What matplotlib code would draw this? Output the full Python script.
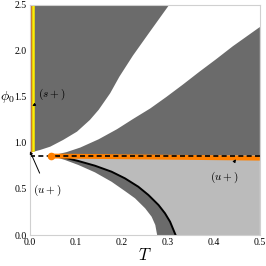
import numpy as np
import matplotlib
matplotlib.use('Agg')
import matplotlib.pyplot as plt

plt.rcParams['mathtext.fontset'] = 'cm'
plt.rcParams['font.family'] = 'Liberation Serif'

# upper-left boundary (T, phi0)
c1_T = [0.005, 0.023, 0.045, 0.073, 0.103, 0.131, 0.150, 0.175, 0.195, 0.2245, 0.26, 0.303]
c1_phi = [0.90, 0.924, 0.96, 1.033, 1.123, 1.25, 1.36, 1.54, 1.72, 1.95, 2.2, 2.5]

# lower boundary of the white band, from the orange dot
c2_T = [0.047, 0.08, 0.11, 0.15, 0.19, 0.2245, 0.262, 0.297, 0.333, 0.369, 0.405, 0.441, 0.5]
c2_phi = [0.862, 0.90, 0.95, 1.04, 1.15, 1.26, 1.375, 1.50, 1.635, 1.775, 1.91, 2.05, 2.26]

# curves below the dashed line
outer_T = [0.047, 0.077, 0.106, 0.142, 0.178, 0.207, 0.236, 0.258, 0.280, 0.294, 0.305, 0.317]
outer_phi = [0.862, 0.840, 0.804, 0.753, 0.688, 0.616, 0.525, 0.435, 0.326, 0.236, 0.145, 0.0]
inner_T = [0.047, 0.077, 0.106, 0.142, 0.178, 0.207, 0.229, 0.251, 0.265, 0.273, 0.277]
inner_phi = [0.862, 0.815, 0.761, 0.681, 0.579, 0.478, 0.399, 0.290, 0.199, 0.109, 0.0]

phi_c = 0.862
dot_T = 0.047
orange_T = [0.047, 0.5]
orange_phi = [0.858, 0.835]

dark = '#6b6b6b'
light = '#bbbbbb'
orange = '#ff8000'

fig = plt.figure(figsize=(2.66, 2.66), dpi=100)
ax = fig.add_axes([0.111, 0.1165, 0.866, 0.865])

# dark region upper-left
ax.fill(c1_T + [0.0, 0.0], c1_phi + [2.5, 0.90], color=dark, lw=0)
# dark region right of dot, above dashed line
ax.fill(c2_T + [0.5], c2_phi + [phi_c], color=dark, lw=0)
# light grey below, right of black curve
ax.fill(outer_T + [0.5, 0.5], outer_phi + [0.0, phi_c], color=light, lw=0)
# dark band between curves
ax.fill(outer_T + inner_T[::-1], outer_phi + inner_phi[::-1], color=dark, lw=0)
ax.plot(outer_T, outer_phi, color='black', lw=1.4)

ax.plot(orange_T, orange_phi, color=orange, lw=3.5, solid_capstyle='butt')
ax.plot([0, 0.5], [phi_c, phi_c], color='black', lw=1.2, ls=(0, (3, 2)))
ax.plot([dot_T], [phi_c], 'o', color=orange, ms=5.5, mec='none')

# vertical lines at the left edge
ax.plot([0.001, 0.001], [0.90, 2.5], color=orange, lw=2.5, alpha=0.7)
ax.plot([0.007, 0.007], [0.92, 2.5], color='#ffee00', lw=1.8)

ax.annotate(r'$(s+)$', xy=(0.006, 1.40), xytext=(0.048, 1.53), fontsize=8,
            ha='center', va='center',
            arrowprops=dict(arrowstyle='-|>', color='black', lw=0.7,
                            mutation_scale=4, shrinkA=4, shrinkB=0))
ax.annotate(r'$(u+)$', xy=(0.001, 0.91), xytext=(0.038, 0.49), fontsize=8,
            ha='center', va='center',
            arrowprops=dict(arrowstyle='-|>', color='black', lw=0.7,
                            mutation_scale=4, shrinkA=5, shrinkB=0))
ax.annotate(r'$(u+)$', xy=(0.448, 0.823), xytext=(0.422, 0.63), fontsize=8,
            ha='center', va='center',
            arrowprops=dict(arrowstyle='-|>', color='black', lw=0.7,
                            mutation_scale=4, shrinkA=5, shrinkB=0))

ax.set_xlim(0, 0.5)
ax.set_ylim(0, 2.5)
ax.set_xticks([0.0, 0.1, 0.2, 0.3, 0.4, 0.5])
ax.set_yticks([0.0, 0.5, 1.0, 1.5, 2.0, 2.5])
ax.tick_params(labelsize=7, length=0, pad=2)
for s in ax.spines.values():
    s.set_color('#d0d0d0')
    s.set_linewidth(0.8)

ax.set_xlabel(r'$T$', fontsize=12, labelpad=1)
ax.set_ylabel(r'$\phi_0$', fontsize=10, rotation=0, labelpad=0)
ax.yaxis.set_label_coords(-0.098, 0.565)

fig.savefig('out.png', dpi=100)
